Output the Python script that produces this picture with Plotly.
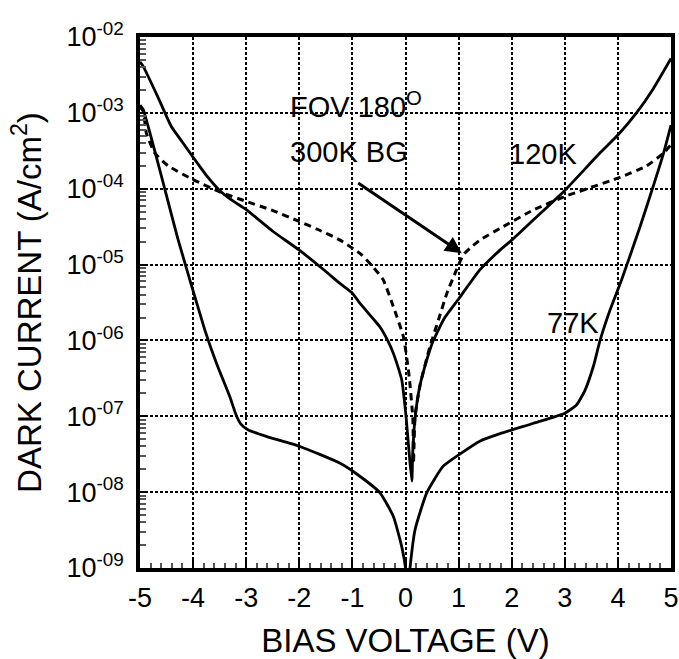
import plotly.graph_objects as go

# Bias voltage (V) and dark current density (A/cm^2) for each curve
v_120k = [-5.00, -4.94, -4.66, -4.41, -4.20, -4.00, -3.75, -3.50, -3.25, -3.00,
          -2.50, -2.00, -1.50, -1.23, -1.00, -0.86, -0.60, -0.48, -0.30, -0.23,
          -0.10, -0.07, 0.01, 0.07, 0.12, 0.135, 0.18, 0.27, 0.40, 0.52,
          0.74, 1.01, 1.40, 1.78, 2.00, 2.41, 3.00, 3.66, 4.00, 4.35, 4.67, 5.00]
i_120k = [4.7e-3, 4.1e-3, 1.6e-3, 6.6e-4, 4.1e-4, 2.6e-4, 1.5e-4, 9.5e-5, 6.9e-5, 5.3e-5,
          2.75e-5, 1.55e-5, 8.1e-6, 5.6e-6, 4.2e-6, 3.1e-6, 1.9e-6, 1.5e-6, 8.9e-7, 6.8e-7,
          3.6e-7, 3.0e-7, 1.0e-7, 3.2e-8, 1.4e-8, 3.2e-8, 9.5e-8, 2.5e-7, 5.5e-7, 9.8e-7,
          2.0e-6, 3.6e-6, 8.5e-6, 1.55e-5, 2.1e-5, 3.9e-5, 9.5e-5, 2.95e-4, 5.1e-4, 1.0e-3, 2.1e-3, 5.2e-3]

v_bg = [-5.00, -4.94, -4.88, -4.72, -4.47, -4.00, -3.50, -3.00, -2.53, -2.00,
        -1.65, -1.23, -0.83, -0.61, -0.42, -0.23, -0.04, 0.07, 0.14, 0.15,
        0.16, 0.18, 0.27, 0.46, 0.62, 0.78, 0.96, 1.09, 1.22, 1.40,
        1.78, 2.41, 3.00, 4.00, 4.54, 4.86, 5.00]
i_bg = [1.2e-3, 1.05e-3, 5.4e-4, 2.95e-4, 2.0e-4, 1.32e-4, 9.1e-5, 6.8e-5, 5.25e-5, 3.7e-5,
        2.9e-5, 2.1e-5, 1.35e-5, 9.3e-6, 6.3e-6, 2.8e-6, 1.12e-6, 3.3e-7, 8.9e-8, 2.4e-8,
        4.0e-8, 1.0e-7, 2.5e-7, 8.3e-7, 1.86e-6, 4.2e-6, 8.5e-6, 1.35e-5, 1.66e-5, 2.1e-5,
        3.0e-5, 5.25e-5, 7.9e-5, 1.38e-4, 2.0e-4, 2.95e-4, 3.8e-4]

v_77k = [-5.00, -4.94, -4.28, -3.78, -3.56, -3.31, -3.18, -3.10, -2.96, -2.61,
         -1.99, -1.23, -0.86, -0.48, -0.23, -0.07, 0.00, 0.04, 0.085, 0.18,
         0.40, 0.71, 1.03, 1.40, 1.78, 2.41, 3.00, 3.22, 3.38, 3.54,
         3.66, 3.85, 4.07, 4.42, 4.64, 4.86, 5.00]
i_77k = [1.26e-3, 1.1e-3, 2.1e-5, 1.38e-6, 5.0e-7, 1.82e-7, 1.0e-7, 7.9e-8, 6.6e-8, 5.4e-8,
         4.0e-8, 2.4e-8, 1.62e-8, 9.8e-9, 4.8e-9, 1.9e-9, 1.0e-9, 4.0e-10, 1.0e-9, 3.2e-9,
         9.8e-9, 2.2e-8, 3.2e-8, 4.7e-8, 5.9e-8, 8.1e-8, 1.1e-7, 1.41e-7, 2.2e-7, 4.6e-7,
         9.8e-7, 2.5e-6, 6.3e-6, 3.2e-5, 9.5e-5, 2.95e-4, 6.9e-4]

x_ticks = [-5, -4, -3, -2, -1, 0, 1, 2, 3, 4, 5]
y_ticks = [1e-9, 1e-8, 1e-7, 1e-6, 1e-5, 1e-4, 1e-3, 1e-2]
y_tick_text = ["10<sup>-09</sup>", "10<sup>-08</sup>", "10<sup>-07</sup>", "10<sup>-06</sup>",
               "10<sup>-05</sup>", "10<sup>-04</sup>", "10<sup>-03</sup>", "10<sup>-02</sup>"]

FONT = "Liberation Sans, Arial, sans-serif"

fig = go.Figure()
fig.add_trace(go.Scatter(x=v_120k, y=i_120k, mode="lines", name="120K",
                         line=dict(color="black", width=2.8, shape="spline", smoothing=0.5)))
fig.add_trace(go.Scatter(x=v_77k, y=i_77k, mode="lines", name="77K",
                         line=dict(color="black", width=2.8, shape="spline", smoothing=0.5)))
fig.add_trace(go.Scatter(x=v_bg, y=i_bg, mode="lines", name="FOV 180, 300K BG",
                         line=dict(color="black", width=3, dash="7px,5px",
                                   shape="spline", smoothing=0.5)))

fig.update_xaxes(
    range=[-5, 5], tickvals=x_ticks, ticktext=[str(t) for t in x_ticks],
    automargin=False,
    showline=True, linewidth=3.5, linecolor="black", mirror=True,
    ticks="inside", ticklen=8, tickwidth=1.5, tickcolor="black",
    minor=dict(dtick=0.2, ticks="inside", ticklen=5, tickwidth=1.5,
               tickcolor="#555", showgrid=False),
    showgrid=True, gridcolor="black", gridwidth=1.5, griddash="3px,2px",
    zeroline=False, ticklabelstandoff=3,
    tickfont=dict(family=FONT, size=27, color="black"),
    title=dict(text="BIAS VOLTAGE (V)", font=dict(family=FONT, size=33, color="black"),
               standoff=19),
)
fig.update_yaxes(
    type="log", range=[-9, -2], tickvals=y_ticks, ticktext=y_tick_text,
    automargin=False,
    showline=True, linewidth=3.5, linecolor="black", mirror=True,
    ticks="inside", ticklen=8, tickwidth=1.5, tickcolor="black",
    minor=dict(dtick="D1", ticks="inside", ticklen=6, tickwidth=1.5,
               tickcolor="#555", showgrid=False),
    showgrid=True, gridcolor="black", gridwidth=1.5, griddash="3px,2px",
    zeroline=False, ticklabelstandoff=7,
    tickfont=dict(family=FONT, size=27, color="black"),
    title=dict(text="DARK CURRENT (A/cm<sup>2</sup>)",
               font=dict(family=FONT, size=33, color="black"), standoff=16),
)

ann_font = dict(family=FONT, size=29, color="black")
fig.add_annotation(x=-2.22, y=-2.90, xref="x", yref="y", text="FOV 180<sup>O</sup>",
                   showarrow=False, xanchor="left", yanchor="middle", font=ann_font)
fig.add_annotation(x=-2.22, y=-3.51, xref="x", yref="y", text="300K BG",
                   showarrow=False, xanchor="left", yanchor="middle", font=ann_font)
fig.add_annotation(x=1.91, y=-3.54, xref="x", yref="y", text="120K",
                   showarrow=False, xanchor="left", yanchor="middle", font=ann_font)
fig.add_annotation(x=2.63, y=-5.77, xref="x", yref="y", text="77K",
                   showarrow=False, xanchor="left", yanchor="middle", font=ann_font)
fig.add_annotation(x=1.06, y=-4.85, xref="x", yref="y",
                   ax=-0.92, ay=-3.91, axref="x", ayref="y", text="",
                   showarrow=True, arrowhead=2, arrowsize=1.1, arrowwidth=3,
                   arrowcolor="black")

fig.update_layout(
    width=679, height=659,
    margin=dict(l=140, r=8, t=37, b=91),
    paper_bgcolor="white", plot_bgcolor="white",
    showlegend=False,
    font=dict(family=FONT, color="black"),
)

fig.write_html("out.html")
